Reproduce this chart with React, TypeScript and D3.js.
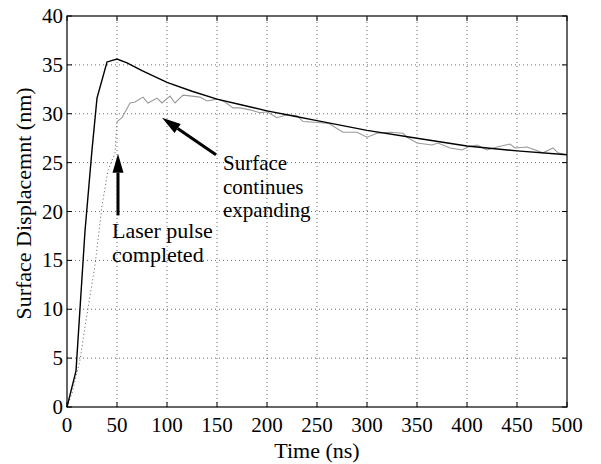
import React from "react"
import * as d3 from "d3"

// solid curve
const timeSolid = [0, 9, 18, 25, 30, 40, 50, 60, 75, 100, 125, 150, 175, 200, 225, 250, 300, 350, 400, 450, 500]
const dispSolid = [0, 3.7, 18, 26.3, 31.6, 35.3, 35.6, 35.2, 34.4, 33.2, 32.3, 31.5, 30.9, 30.3, 29.8, 29.3, 28.3, 27.5, 26.7, 26.2, 25.8]

// measured curve, rising part (dotted)
const timeRise = [0, 5, 13, 18, 28, 35, 41, 48, 50]
const dispRise = [0, 1.4, 4.8, 8.2, 14.5, 20.6, 24.2, 26, 29.2]

// measured curve, after the pulse (wavy gray)
const timeWave = [50, 55, 63, 68, 76, 81, 90, 95, 103, 108, 116, 125, 133, 140, 150, 158, 166, 173, 183, 193, 200, 210, 220, 230, 236, 251, 262, 276, 290, 300, 310, 323, 336, 340, 350, 365, 371, 383, 395, 401, 410, 420, 430, 443, 448, 460, 476, 486, 491, 500]
const dispWave = [29.2, 29.6, 31.1, 31.2, 31.7, 31.1, 31.6, 31.1, 31.8, 31.1, 31.9, 31.8, 31.7, 31.3, 31.5, 31.2, 30.6, 30.6, 30.4, 30.1, 30.2, 29.6, 29.9, 29.8, 29.2, 29.1, 29.0, 28.1, 28.1, 27.6, 28.0, 28.1, 28.0, 27.6, 27.0, 26.8, 27.0, 26.5, 26.3, 26.6, 26.8, 26.3, 26.6, 26.9, 26.5, 26.6, 26.0, 26.5, 26.0, 25.8]

const xTicks = [0, 50, 100, 150, 200, 250, 300, 350, 400, 450, 500]
const yTicks = [0, 5, 10, 15, 20, 25, 30, 35, 40]

const W = 601
const H = 464
const margin = { top: 16, right: 34, bottom: 57, left: 67 }
const font = "'Liberation Serif', 'Times New Roman', serif"

const App = () => {
  const x = d3.scaleLinear().domain([0, 500]).range([margin.left, W - margin.right])
  const y = d3.scaleLinear().domain([0, 40]).range([H - margin.bottom, margin.top])
  const line = d3.line<[number, number]>().x(d => x(d[0])).y(d => y(d[1]))

  const solid = line(timeSolid.map((t, i) => [t, dispSolid[i]]))
  const rise = line(timeRise.map((t, i) => [t, dispRise[i]]))
  const wave = line(timeWave.map((t, i) => [t, dispWave[i]]))

  const x0 = x(0), x1 = x(500), y0 = y(0), y1 = y(40)
  const tk = 5

  // arrows in data units: [tail, tip]
  const arrows: [number, number][][] = [
    [[51, 19.6], [51, 25.9]],
    [[149, 25.8], [95, 29.6]],
  ]

  const arrow = (a: [number, number][], i: number) => {
    const [tx, ty] = [x(a[0][0]), y(a[0][1])]
    const [hx, hy] = [x(a[1][0]), y(a[1][1])]
    const ang = Math.atan2(hy - ty, hx - tx)
    const len = 19, half = 5.5
    const bx = hx - len * Math.cos(ang), by = hy - len * Math.sin(ang)
    const px = -Math.sin(ang) * half, py = Math.cos(ang) * half
    return (
      <g key={i}>
        <line x1={tx} y1={ty} x2={bx} y2={by} stroke="#000" strokeWidth={3} />
        <polygon points={`${hx},${hy} ${bx + px},${by + py} ${bx - px},${by - py}`} fill="#000" />
      </g>
    )
  }

  return (
    <svg width={W} height={H} style={{ position: "absolute", left: 0, top: 0, background: "#fff" }} fontFamily={font}>
      <rect x={0} y={0} width={W} height={H} fill="#fff" />
      {/* grid */}
      {xTicks.slice(1, -1).map(t => (
        <line key={"gx" + t} x1={x(t)} x2={x(t)} y1={y0} y2={y1} stroke="#444" strokeWidth={0.8} strokeDasharray="1,3" />
      ))}
      {yTicks.slice(1, -1).map(t => (
        <line key={"gy" + t} x1={x0} x2={x1} y1={y(t)} y2={y(t)} stroke="#444" strokeWidth={0.8} strokeDasharray="1,3" />
      ))}

      {/* curves */}
      <path d={rise ?? ""} fill="none" stroke="#777" strokeWidth={1} strokeDasharray="1.2,2.5" />
      <path d={wave ?? ""} fill="none" stroke="#999" strokeWidth={1.1} />
      <path d={solid ?? ""} fill="none" stroke="#000" strokeWidth={1.4} />

      {/* box and ticks */}
      <rect x={x0} y={y1} width={x1 - x0} height={y0 - y1} fill="none" stroke="#000" strokeWidth={1.2} />
      {xTicks.map(t => (
        <g key={"tx" + t}>
          <line x1={x(t)} x2={x(t)} y1={y0} y2={y0 - tk} stroke="#000" />
          <line x1={x(t)} x2={x(t)} y1={y1} y2={y1 + tk} stroke="#000" />
          <text x={x(t)} y={y0 + 25} textAnchor="middle" fontSize={21} fill="#000">{t}</text>
        </g>
      ))}
      {yTicks.map(t => (
        <g key={"ty" + t}>
          <line x1={x0} x2={x0 + tk} y1={y(t)} y2={y(t)} stroke="#000" />
          <line x1={x1} x2={x1 - tk} y1={y(t)} y2={y(t)} stroke="#000" />
          <text x={x0 - 4} y={y(t) + 7} textAnchor="end" fontSize={21} fill="#000">{t}</text>
        </g>
      ))}

      {/* axis labels */}
      <text x={(x0 + x1) / 2} y={H - 6} textAnchor="middle" fontSize={22} fill="#000">Time (ns)</text>
      <text transform={`translate(31, ${(y0 + y1) / 2 - 8}) rotate(-90)`} textAnchor="middle" fontSize={22} fill="#000">
        Surface Displacemnt (nm)
      </text>

      {/* annotations */}
      {arrows.map(arrow)}
      <text x={x(45)} y={y(17.3)} fontSize={22} fill="#000">
        <tspan x={x(45)}>Laser pulse</tspan>
        <tspan x={x(45)} dy={24}>completed</tspan>
      </text>
      <text x={x(156)} y={y(24.2)} fontSize={21} fill="#000">
        <tspan x={x(156)}>Surface</tspan>
        <tspan x={x(156)} dy={23.5}>continues</tspan>
        <tspan x={x(156)} dy={23.5}>expanding</tspan>
      </text>
    </svg>
  )
}

export default App
